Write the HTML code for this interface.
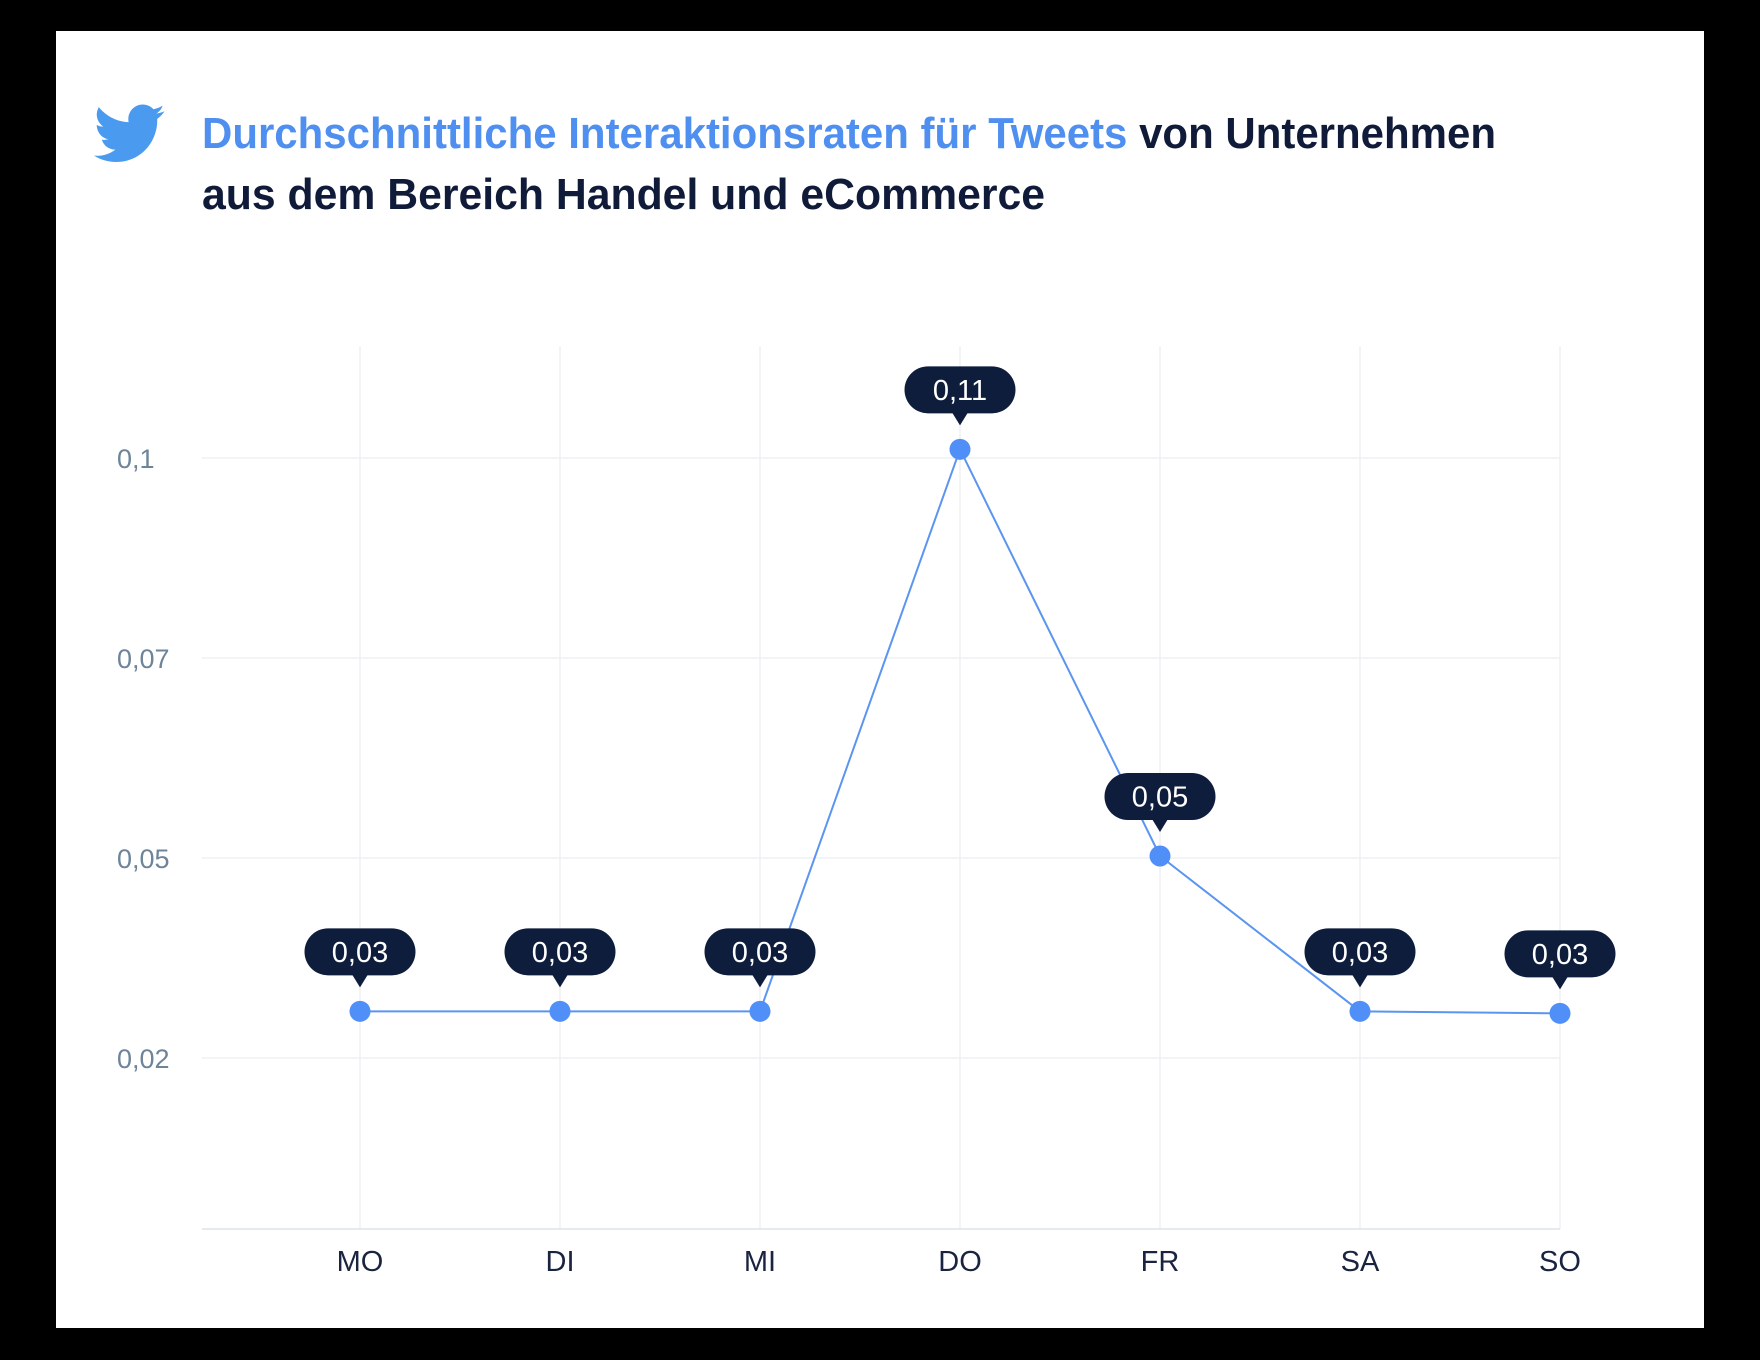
<!DOCTYPE html>
<html><head><meta charset="utf-8"><style>
html,body{margin:0;padding:0;background:#000;}
svg{display:block;}
</style></head><body>
<svg id="chart" width="1760" height="1360" viewBox="0 0 1760 1360" xmlns="http://www.w3.org/2000/svg">
<rect x="56" y="31" width="1648" height="1297" fill="#ffffff"/>
<g transform="translate(95,103) scale(2.95)" fill="#4a9bf0">
<path d="M23.6 2.8c-.9.4-1.8.6-2.8.8 1-.6 1.8-1.6 2.1-2.7-.9.6-2 1-3.1 1.2C18.9 1.1 17.6.5 16.2.5c-2.7 0-4.9 2.2-4.9 4.9 0 .4 0 .8.1 1.1C7.3 6.3 3.7 4.4 1.3 1.4.9 2.1.6 3 .6 3.9c0 1.7.9 3.2 2.2 4.1-.8 0-1.6-.2-2.2-.6v.1c0 2.4 1.7 4.4 3.9 4.8-.4.1-.8.2-1.3.2-.3 0-.6 0-.9-.1.6 2 2.4 3.4 4.6 3.4-1.7 1.3-3.8 2.1-6.1 2.1-.4 0-.8 0-1.2-.1 2.2 1.4 4.8 2.2 7.5 2.2 9.1 0 14-7.5 14-14v-.6c1-.7 1.8-1.6 2.5-2.6z"/>
</g>
<text x="202" y="148" font-family="Liberation Sans, sans-serif" font-weight="bold" font-size="44" textLength="1294" lengthAdjust="spacingAndGlyphs"><tspan fill="#4f8ff0">Durchschnittliche Interaktionsraten für Tweets</tspan><tspan fill="#101b3a"> von Unternehmen</tspan></text>
<text x="202" y="209" font-family="Liberation Sans, sans-serif" font-weight="bold" font-size="44" fill="#101b3a" textLength="843" lengthAdjust="spacingAndGlyphs">aus dem Bereich Handel und eCommerce</text>
<g id="grid"></g>
<g id="marks"></g>
</svg>
<script>
const categories = ["MO","DI","MI","DO","FR","SA","SO"];
const values = [0.027, 0.027, 0.027, 0.1013, 0.0502, 0.027, 0.0267];
const valueLabels = ["0,03","0,03","0,03","0,11","0,05","0,03","0,03"];
const tickValues = [0.02, 0.05, 0.07, 0.1];
const tickLabels = ["0,02","0,05","0,07","0,1"];

const NS = "http://www.w3.org/2000/svg";
const plotLeft = 202, plotRight = 1560, plotTop = 346, plotBottom = 1229;
const tickY0 = 1058, tickStep = 200;
function xPos(i){ return 360 + i * 200; }
function yPos(v){
  // piecewise-linear scale across equally spaced ticks
  let k = 0;
  if (v <= tickValues[0]) k = 0;
  else if (v >= tickValues[tickValues.length-1]) k = tickValues.length - 2;
  else { while (v > tickValues[k+1]) k++; }
  const f = (v - tickValues[k]) / (tickValues[k+1] - tickValues[k]);
  return tickY0 - (k + f) * tickStep;
}
function el(tag, attrs, parent){
  const e = document.createElementNS(NS, tag);
  for (const a in attrs) e.setAttribute(a, attrs[a]);
  parent.appendChild(e);
  return e;
}
const grid = document.getElementById("grid");
const marks = document.getElementById("marks");

categories.forEach((c, i) => {
  const l = el("line", {x1: xPos(i), x2: xPos(i), y1: plotTop, y2: plotBottom, stroke: "#eef0f3", "stroke-width": 1.5}, grid);
  
  
  const t = el("text", {x: xPos(i), y: 1271, "text-anchor": "middle", "font-family": "Liberation Sans, sans-serif", "font-size": 29, fill: "#1a2440"}, grid);
  t.textContent = c;
  
  
});
tickValues.forEach((v, i) => {
  const y = yPos(v);
  const l = el("line", {x1: plotLeft, x2: plotRight, y1: y, y2: y, stroke: "#eef0f3", "stroke-width": 1.5}, grid);
  
  
  const t = el("text", {x: 117, y: y + 10, "font-family": "Liberation Sans, sans-serif", "font-size": 27, fill: "#6d8499"}, grid);
  t.textContent = tickLabels[i];
  
  
});
const base = el("line", {x1: plotLeft, x2: plotRight, y1: plotBottom, y2: plotBottom, stroke: "#e6e9ee", "stroke-width": 2}, grid);



const pts = values.map((v, i) => xPos(i) + "," + yPos(v)).join(" ");
const line = el("polyline", {points: pts, fill: "none", stroke: "#5b95f0", "stroke-width": 2}, marks);



values.forEach((v, i) => {
  const x = xPos(i), y = yPos(v);
  const dot = el("circle", {cx: x, cy: y, r: 10.5, fill: "#4f8ff7"}, marks);
  
  
  const g = el("g", {}, marks);
  
  
  const bot = y - 36, w = 111, h = 47;
  el("rect", {x: x - w/2, y: bot - h, width: w, height: h, rx: 23.5, fill: "#0f1d3d"}, g);
  el("polygon", {points: (x-8)+","+(bot-1)+" "+(x+8)+","+(bot-1)+" "+x+","+(bot+12), fill: "#0f1d3d"}, g);
  const t = el("text", {x: x, y: bot - h/2 + 10, "text-anchor": "middle", "font-family": "Liberation Sans, sans-serif", "font-size": 29, fill: "#ffffff"}, g);
  t.textContent = valueLabels[i];
  
  
});
</script>
</body></html>
